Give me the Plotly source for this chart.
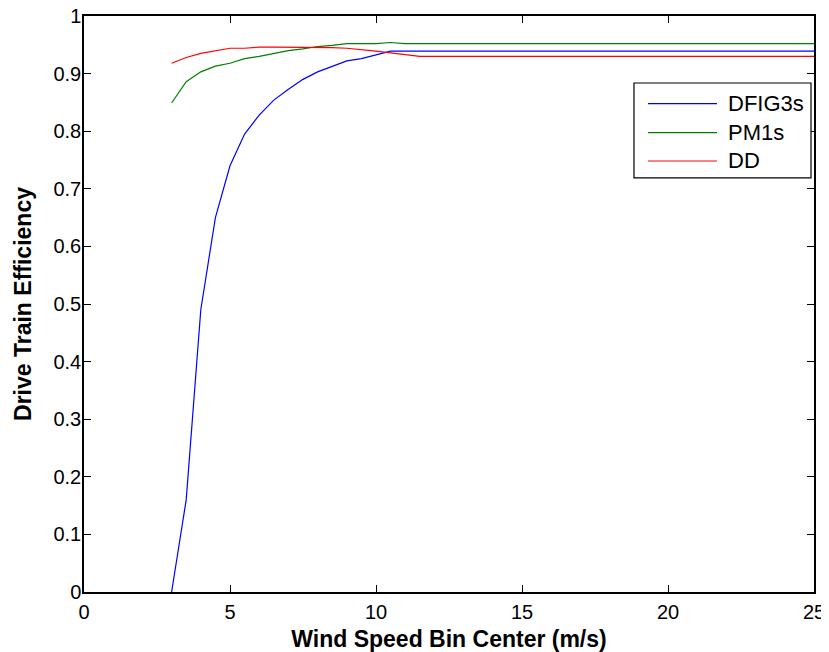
import plotly.graph_objects as go

wind_speed = [3, 3.5, 4, 4.5, 5, 5.5, 6, 6.5, 7, 7.5, 8, 8.5, 9, 9.5, 10, 10.5,
              11, 11.5, 12, 12.5, 13, 13.5, 14, 14.5, 15, 15.5, 16, 16.5, 17,
              17.5, 18, 18.5, 19, 19.5, 20, 20.5, 21, 21.5, 22, 22.5, 23, 23.5,
              24, 24.5, 25]

dfig3s = [0.0, 0.16, 0.49, 0.65, 0.74, 0.795, 0.828, 0.854, 0.873, 0.89, 0.903,
          0.913, 0.922, 0.926, 0.933, 0.939,
          0.939, 0.939, 0.939, 0.939, 0.939, 0.939, 0.939, 0.939, 0.939, 0.939,
          0.939, 0.939, 0.939, 0.939, 0.939, 0.939, 0.939, 0.939, 0.939, 0.939,
          0.939, 0.939, 0.939, 0.939, 0.939, 0.939, 0.939, 0.939, 0.939]

pm1s = [0.849, 0.886, 0.903, 0.913, 0.918, 0.926, 0.930, 0.935, 0.940, 0.943,
        0.947, 0.949, 0.952, 0.952, 0.952, 0.954,
        0.952, 0.952, 0.952, 0.952, 0.952, 0.952, 0.952, 0.952, 0.952, 0.952,
        0.952, 0.952, 0.952, 0.952, 0.952, 0.952, 0.952, 0.952, 0.952, 0.952,
        0.952, 0.952, 0.952, 0.952, 0.952, 0.952, 0.952, 0.952, 0.952]

dd = [0.918, 0.928, 0.935, 0.940, 0.944, 0.944, 0.946, 0.946, 0.946, 0.946,
      0.945, 0.945, 0.944, 0.942, 0.939, 0.936,
      0.933, 0.930, 0.930, 0.930, 0.930, 0.930, 0.930, 0.930, 0.930, 0.930,
      0.930, 0.930, 0.930, 0.930, 0.930, 0.930, 0.930, 0.930, 0.930, 0.930,
      0.930, 0.930, 0.930, 0.930, 0.930, 0.930, 0.930, 0.930, 0.930]

x_ticks = [0, 5, 10, 15, 20, 25]
y_ticks = [0, 0.1, 0.2, 0.3, 0.4, 0.5, 0.6, 0.7, 0.8, 0.9, 1]
y_ticktext = ["0", "0.1", "0.2", "0.3", "0.4", "0.5", "0.6", "0.7", "0.8", "0.9", "1"]

series_names = ["DFIG3s", "PM1s", "DD"]
series_colors = ["#0000ff", "#007f00", "#ff0000"]

FONT = "Liberation Sans, Arial"

fig = go.Figure()
for name, vals, col in zip(series_names, [dfig3s, pm1s, dd], series_colors):
    fig.add_trace(go.Scatter(x=wind_speed, y=vals, mode="lines", name=name,
                             line=dict(color=col, width=1.2), showlegend=False))

axis_common = dict(
    showgrid=False, zeroline=False, showline=True, linecolor="black",
    linewidth=1.5, mirror="ticks", ticks="inside", ticklen=7,
    tickcolor="black", tickwidth=1.2, automargin=False,
    ticklabeloverflow="allow",
    tickfont=dict(family=FONT, size=20, color="black"),
)

# page body has an 8px margin, so the figure is sized 8px smaller
fig.update_layout(
    width=821, height=644,
    margin=dict(l=76, r=15, t=8, b=60, autoexpand=False),
    paper_bgcolor="white", plot_bgcolor="white",
    xaxis=dict(range=[0, 25], tickvals=x_ticks, ticklabelstandoff=1,
               title=dict(text="<b>Wind Speed Bin Center (m/s)</b>",
                          font=dict(family=FONT, size=23, color="black")),
               **axis_common),
    yaxis=dict(range=[0, 1], tickvals=y_ticks, ticktext=y_ticktext,
               ticklabelstandoff=-3,
               title=dict(text="<b>Drive Train Efficiency</b>",
                          font=dict(family=FONT, size=23, color="black")),
               **axis_common),
    showlegend=False,
)

# Legend box drawn in paper coordinates (MATLAB-style legend)
leg_x0, leg_x1, leg_y0, leg_y1 = 0.7534, 0.9959, 0.7188, 0.8837
fig.add_shape(type="rect", xref="paper", yref="paper",
              x0=leg_x0, x1=leg_x1, y0=leg_y0, y1=leg_y1,
              line=dict(color="black", width=1.2), fillcolor="white", layer="above")
entry_y = [0.8477, 0.7974, 0.7483]
for name, col, ey in zip(series_names, series_colors, entry_y):
    fig.add_shape(type="line", xref="paper", yref="paper",
                  x0=0.7726, x1=0.8671, y0=ey, y1=ey,
                  line=dict(color=col, width=1.2), layer="above")
    fig.add_annotation(xref="paper", yref="paper", x=0.8795, y=ey,
                       xanchor="left", yanchor="middle", text=name,
                       showarrow=False,
                       font=dict(family=FONT, size=22, color="black"))

fig.write_html("out.html")
